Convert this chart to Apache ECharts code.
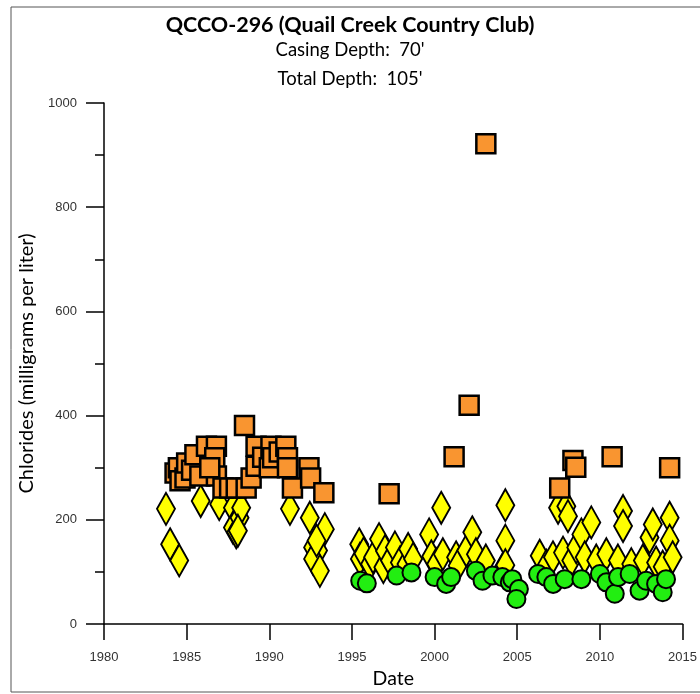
<!DOCTYPE html>
<html>
<head>
<meta charset="utf-8">
<script src="https://cdn.jsdelivr.net/npm/echarts@6/dist/echarts.min.js"></script>
<style>
html,body{margin:0;padding:0;background:#fff;}
#chart{width:700px;height:694px;}
</style>
</head>
<body>
<div id="chart"></div>
<script>
const titleText = 'QCCO-296 (Quail Creek Country Club)';
const subtitleLines = ["Casing Depth:  70'", "Total Depth:  105'"];
const xAxisName = 'Date';
const yAxisName = 'Chlorides (milligrams per liter)';

// [decimal year, chlorides mg/L]
const orangeSquares = [
  [1984.3,290],[1984.5,300],[1984.6,275],[1984.9,280],[1985.0,309],[1985.3,295],[1985.5,325],
  [1985.8,284],[1986.2,341],[1986.8,341],[1986.7,319],[1986.8,284],[1986.4,300],[1987.2,261],
  [1987.6,261],[1988.0,261],[1988.6,261],[1988.9,280],[1988.5,381],[1989.2,341],[1989.2,303],
  [1989.6,320],[1990.0,300],[1990.1,341],[1990.2,319],[1990.6,330],[1991.0,341],[1991.1,319],
  [1991.1,300],[1991.4,261],[1992.4,300],[1992.5,280],[1993.3,252],[1997.25,250],[2001.18,321],
  [2002.09,420],[2003.1,922],[2007.57,261],[2008.37,314],[2008.54,301],[2010.74,321],[2014.22,300]
];
const yellowDiamonds = [
  [1983.75,221],[1984.0,153],[1984.55,122],[1985.85,236],[1986.97,230],[1987.8,223],[1987.8,185],
  [1988.0,176],[1988.2,204],[1988.3,223],[1988.1,179],[1991.25,221],[1992.45,204],[1993.36,182],
  [1992.65,147],[1992.95,141],[1992.65,125],[1993.06,102],[1992.86,160],
  [1995.44,153],[1995.48,125],[1995.7,135],[1996.1,115],[1996.28,128],[1996.64,163],[1996.9,109],
  [1997.0,140],[1997.3,122],[1997.6,147],[1997.9,118],[1998.3,115],[1998.4,144],[1998.7,125],
  [1999.67,172],[1999.8,130],[2000.1,115],[2000.4,223],[2000.5,134],[2001.3,128],[2001.4,112],
  [2001.92,141],[2002.28,176],[2002.5,134],[2003.1,122],[2004.2,110],[2004.28,228],[2004.28,160],
  [2004.28,113],
  [2006.36,131],[2006.76,112],[2007.16,128],[2007.47,223],[2007.77,137],[2007.97,226],[2008.07,207],
  [2008.27,122],[2008.57,147],[2008.88,172],[2009.08,128],[2009.48,195],[2009.78,122],[2010.39,134],
  [2011.09,122],[2011.4,217],[2011.4,188],[2011.9,115],[2012.6,122],[2013.0,166],[2013.2,191],
  [2013.4,118],[2013.8,110],[2014.22,204],[2014.22,160],[2014.4,128]
];
const greenCircles = [
  [1995.5,83],[1995.9,78],[1997.7,93],[1998.6,99],[2000.0,90],[2000.7,77],[2001.0,90],[2002.5,102],
  [2002.9,83],[2003.5,93],[2004.1,90],[2004.55,80],[2004.7,86],[2005.1,67],[2004.95,48],
  [2006.26,96],[2006.76,90],[2007.17,77],[2007.87,86],[2008.88,86],[2010.0,96],[2010.39,80],
  [2010.9,58],[2011.1,90],[2011.8,96],[2012.4,64],[2012.8,83],[2013.4,77],[2013.8,61],[2014.0,86]
];

const chart = echarts.init(document.getElementById('chart'), null, {renderer:'canvas'});
const labelFont = {fontFamily:'Liberation Sans', fontSize:13, color:'#333'};
const plain = v => String(v);
chart.setOption({
  animation:false,
  backgroundColor:'#fff',
  title:[
    {text:titleText, left:'center', top:9, textStyle:{fontFamily:'Lato', fontWeight:'bold', fontSize:21.5, color:'#000'}},
    {text:subtitleLines[0], left:'center', top:36, textStyle:{fontFamily:'Lato', fontWeight:'normal', fontSize:18.5, color:'#000'}},
    {text:subtitleLines[1], left:'center', top:65, textStyle:{fontFamily:'Lato', fontWeight:'normal', fontSize:18.5, color:'#000'}}
  ],
  graphic:[{type:'rect', shape:{x:11, y:7, width:720, height:685}, style:{fill:'none', stroke:'#555', lineWidth:1}, silent:true}],
  grid:{left:104, right:17, top:103, bottom:67},
  xAxis:{
    type:'value', min:1980, max:2015, interval:5,
    name:xAxisName, nameLocation:'middle', nameGap:45,
    nameTextStyle:{fontFamily:'Lato', fontSize:19.5, color:'#000'},
    axisLine:{show:true, onZero:false, lineStyle:{color:'#000', width:1.5}},
    axisTick:{show:true, inside:false, length:16, lineStyle:{color:'#000', width:1.5}},
    axisLabel:Object.assign({margin:27, formatter:plain}, labelFont),
    splitLine:{show:false}
  },
  yAxis:{
    type:'value', min:0, max:1000, interval:200,
    name:yAxisName, nameLocation:'middle', nameGap:67,
    nameTextStyle:{fontFamily:'Lato', fontSize:20, color:'#000'},
    axisLine:{show:true, lineStyle:{color:'#000', width:1.5}},
    axisTick:{show:true, inside:false, length:18, lineStyle:{color:'#000', width:1.5}},
    minorTick:{show:true, splitNumber:2, length:9, lineStyle:{color:'#000', width:1.5}},
    axisLabel:Object.assign({margin:27, formatter:plain}, labelFont),
    splitLine:{show:false}
  },
  series:[
    {type:'scatter', data:yellowDiamonds, symbol:'diamond', symbolSize:[18,32],
     itemStyle:{color:'#FFFF00', borderColor:'#000', borderWidth:2, opacity:1}},
    {type:'scatter', data:orangeSquares, symbol:'rect', symbolSize:19,
     itemStyle:{color:'#F99530', borderColor:'#000', borderWidth:2.5, opacity:1}},
    {type:'scatter', data:greenCircles, symbol:'circle', symbolSize:18,
     itemStyle:{color:'#22EE11', borderColor:'#000', borderWidth:2, opacity:1}}
  ]
});
</script>
</body>
</html>
